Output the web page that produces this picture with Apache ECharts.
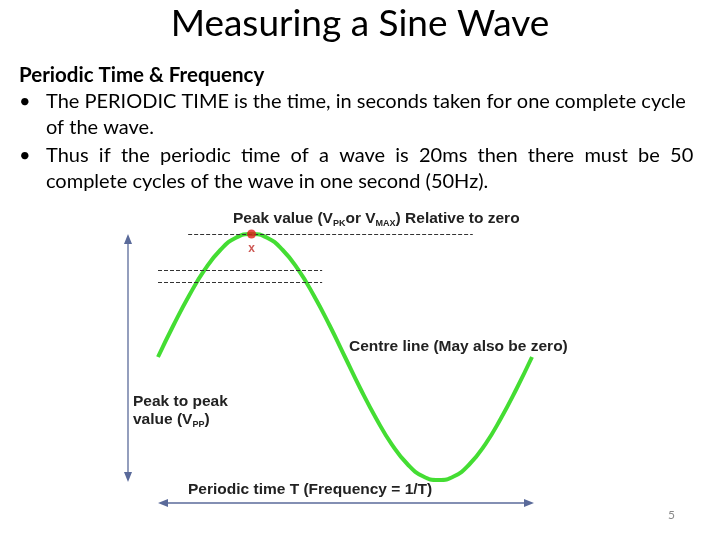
<!DOCTYPE html>
<html><head><meta charset="utf-8">
<script src="https://cdn.jsdelivr.net/npm/echarts@6/dist/echarts.min.js"></script>
<style>html,body{margin:0;padding:0;background:#fff}#c{width:720px;height:540px}</style>
</head><body><div id="c"></div>
<script>
const angles = [0,15,30,45,60,75,90,105,120,135,150,165,180,195,210,225,240,255,270,285,300,315,330,345,360];
const waveValues = [0,0.26,0.5,0.71,0.87,0.97,1,0.97,0.87,0.71,0.5,0.26,0,-0.26,-0.5,-0.71,-0.87,-0.97,-1,-0.97,-0.87,-0.71,-0.5,-0.26,0];
const peakPoint = [90,1];
const dashLines = [[[29,1],[303,1]],[[0,0.707],[158,0.707]],[[0,0.61],[158,0.61]]];

const chart = echarts.init(document.getElementById('c'));
const L = '"Liberation Sans"';
const T = (x,y,text,style)=>({type:'text',left:x,top:y,style:Object.assign({text,fill:'#000',font:'15px '+L},style)});
const body = '20px Lato';
const lab = 'bold 15.5px '+L;
chart.setOption({
  animation:false,
  grid:{left:158,right:188,top:234,bottom:60},
  xAxis:{type:'value',min:0,max:360,show:false},
  yAxis:{type:'value',min:-1,max:1,show:false},
  series:[
    {type:'line',data:angles.map((a,i)=>[a,waveValues[i]]),smooth:true,symbol:'none',
     lineStyle:{color:'#44dd33',width:4},
     markLine:{silent:true,symbol:'none',label:{show:false},lineStyle:{color:'#333',type:[4,2],width:1},
       data:dashLines.map(l=>[{coord:l[0]},{coord:l[1]}])}},
    {type:'scatter',data:[peakPoint],symbolSize:9,itemStyle:{color:'#e0201a'},z:5,
     label:{show:true,position:'bottom',distance:4,formatter:'x',color:'#c0302a',fontSize:12,fontWeight:'bold'}}
  ],
  graphic:[
    {type:'text',left:'center',top:6,style:{text:'Measuring a Sine Wave',font:'37px Lato',fill:'#000'}},
    T(19,65,'Periodic Time & Frequency',{font:'bold 20.5px Lato'}),
    T(19,92,'•',{font:body}), T(46,92,'The PERIODIC TIME is the time, in seconds taken for one complete cycle',{font:body}),
    T(46,118,'of the wave.',{font:body}),
    T(19,146,'•',{font:body}), T(46,146,'Thus  if  the  periodic  time  of  a  wave  is  20ms  then  there  must  be  50',{font:body}),
    T(46,172,'complete cycles of the wave in one second (50Hz).',{font:body}),
    {type:'text',left:233,top:211,style:{rich:{n:{font:lab,fill:'#222'},s:{font:'bold 9px '+L,fill:'#222',padding:[10,0,0,0]}},
      text:'{n|Peak value (V}{s|PK}{n|or V}{s|MAX}{n|) Relative to zero}'}},
    T(349,339,'Centre line (May also be zero)',{font:lab,fill:'#222'}),
    T(133,394,'Peak to peak',{font:lab,fill:'#222'}),
    {type:'text',left:133,top:412,style:{rich:{n:{font:lab,fill:'#222'},s:{font:'bold 9px '+L,fill:'#222',padding:[10,0,0,0]}},
      text:'{n|value (V}{s|PP}{n|)}'}},
    T(188,482,'Periodic time T (Frequency = 1/T)',{font:lab,fill:'#222'}),
    {type:'line',shape:{x1:128,y1:238,x2:128,y2:478},style:{stroke:'#5a6a9a',lineWidth:1.3}},
    {type:'polygon',shape:{points:[[128,234],[124,244],[132,244]]},style:{fill:'#5a6a9a'}},
    {type:'polygon',shape:{points:[[128,482],[124,472],[132,472]]},style:{fill:'#5a6a9a'}},
    {type:'line',shape:{x1:162,y1:503,x2:530,y2:503},style:{stroke:'#5a6a9a',lineWidth:1.3}},
    {type:'polygon',shape:{points:[[158,503],[168,499],[168,507]]},style:{fill:'#5a6a9a'}},
    {type:'polygon',shape:{points:[[534,503],[524,499],[524,507]]},style:{fill:'#5a6a9a'}},
    T(668,509,'5',{font:'12px Lato',fill:'#8a8a8a'})
  ]
});
</script></body></html>
